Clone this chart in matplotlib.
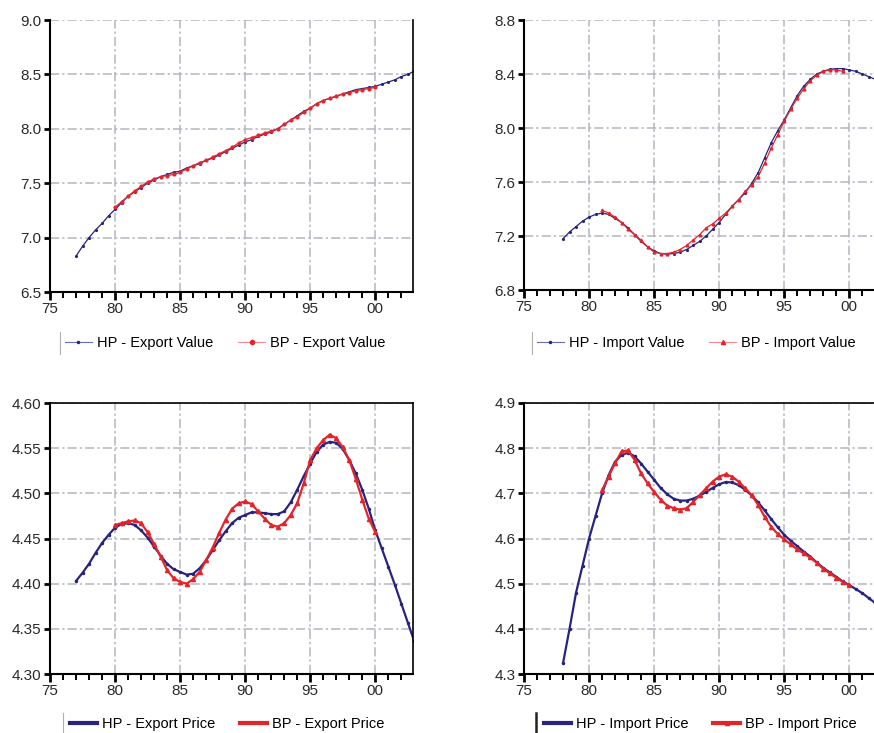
import numpy as np
import matplotlib
matplotlib.use("Agg")
import matplotlib.pyplot as plt
from matplotlib.lines import Line2D
from matplotlib.ticker import FixedLocator, MultipleLocator

plt.rcParams['font.family'] = ['Liberation Sans', 'DejaVu Sans']

NAVY = '#27247f'
RED = '#e3252b'
GRID = '#b3b7c0'

# half-year time index (year - 1900)
hp_ev_years = np.arange(77.0, 103.01, 0.5)
hp_ev = [6.83, 6.92, 7.00, 7.07, 7.13, 7.20, 7.26, 7.32, 7.38, 7.42,
         7.46, 7.50, 7.53, 7.56, 7.58, 7.60, 7.61, 7.64, 7.66, 7.68,
         7.71, 7.73, 7.76, 7.79, 7.82, 7.85, 7.88, 7.90, 7.93, 7.95,
         7.97, 8.00, 8.04, 8.08, 8.12, 8.16, 8.19, 8.23, 8.26, 8.28,
         8.30, 8.32, 8.34, 8.36, 8.37, 8.38, 8.39, 8.41, 8.43, 8.45,
         8.48, 8.50, 8.53]
bp_ev_years = np.arange(80.0, 100.01, 0.5)
bp_ev = [7.28, 7.33, 7.38, 7.43, 7.47, 7.51, 7.54, 7.56, 7.57, 7.58,
         7.60, 7.63, 7.66, 7.69, 7.71, 7.74, 7.77, 7.80, 7.83, 7.87,
         7.90, 7.92, 7.94, 7.96, 7.98, 8.00, 8.04, 8.08, 8.11, 8.15,
         8.19, 8.23, 8.26, 8.28, 8.30, 8.32, 8.33, 8.35, 8.36, 8.37,
         8.38]

hp_iv_years = np.arange(78.0, 103.01, 0.5)
hp_iv = [7.18, 7.23, 7.27, 7.31, 7.34, 7.36, 7.37, 7.36, 7.33, 7.30,
         7.26, 7.21, 7.16, 7.12, 7.09, 7.07, 7.065, 7.07, 7.08, 7.10,
         7.13, 7.16, 7.20, 7.25, 7.30, 7.36, 7.42, 7.47, 7.52, 7.59,
         7.67, 7.78, 7.89, 7.98, 8.06, 8.15, 8.24, 8.31, 8.36, 8.40,
         8.42, 8.435, 8.44, 8.44, 8.43, 8.42, 8.40, 8.38, 8.36, 8.33,
         8.30]
bp_iv_years = np.arange(81.0, 99.51, 0.5)
bp_iv = [7.39, 7.37, 7.34, 7.30, 7.25, 7.21, 7.17, 7.12, 7.08, 7.07,
         7.07, 7.08, 7.10, 7.13, 7.17, 7.21, 7.26, 7.29, 7.33, 7.37,
         7.42, 7.47, 7.53, 7.58, 7.64, 7.74, 7.85, 7.95, 8.05, 8.14,
         8.22, 8.29, 8.35, 8.39, 8.42, 8.43, 8.43, 8.42]

hp_ep_years = np.arange(77.0, 103.01, 0.5)
hp_ep = [4.403, 4.412, 4.422, 4.434, 4.445, 4.454, 4.462, 4.466, 4.467, 4.465,
         4.459, 4.451, 4.441, 4.431, 4.422, 4.416, 4.413, 4.410, 4.411, 4.417,
         4.426, 4.437, 4.448, 4.458, 4.467, 4.473, 4.476, 4.479, 4.479, 4.478,
         4.477, 4.477, 4.480, 4.490, 4.504, 4.519, 4.533, 4.546, 4.554, 4.557,
         4.556, 4.549, 4.537, 4.522, 4.504, 4.483, 4.459, 4.439, 4.419, 4.399,
         4.378, 4.357, 4.336]
bp_ep_years = np.arange(80.0, 100.01, 0.5)
bp_ep = [4.465, 4.467, 4.469, 4.470, 4.467, 4.457, 4.444, 4.430, 4.415, 4.406,
         4.402, 4.400, 4.405, 4.413, 4.426, 4.440, 4.456, 4.471, 4.483, 4.489,
         4.491, 4.488, 4.480, 4.472, 4.465, 4.463, 4.467, 4.476, 4.489, 4.511,
         4.537, 4.550, 4.559, 4.565, 4.561, 4.551, 4.537, 4.516, 4.493, 4.472,
         4.457]

hp_ip_years = np.arange(78.0, 103.01, 0.5)
hp_ip = [4.324, 4.40, 4.48, 4.54, 4.60, 4.65, 4.70, 4.74, 4.77, 4.785,
         4.79, 4.782, 4.766, 4.748, 4.73, 4.712, 4.698, 4.688, 4.684, 4.684,
         4.688, 4.695, 4.703, 4.712, 4.72, 4.725, 4.724, 4.718, 4.708, 4.695,
         4.68, 4.662, 4.643, 4.625, 4.608, 4.595, 4.583, 4.571, 4.56, 4.547,
         4.535, 4.525, 4.515, 4.505, 4.497, 4.488, 4.479, 4.468, 4.457, 4.447,
         4.436]
bp_ip_years = np.arange(81.0, 100.01, 0.5)
bp_ip = [4.707, 4.737, 4.767, 4.793, 4.795, 4.774, 4.744, 4.722, 4.703, 4.686,
         4.673, 4.667, 4.664, 4.667, 4.681, 4.696, 4.711, 4.726, 4.737, 4.742,
         4.737, 4.726, 4.711, 4.696, 4.674, 4.648, 4.626, 4.610, 4.598, 4.587,
         4.576, 4.567, 4.558, 4.546, 4.533, 4.523, 4.513, 4.504, 4.496]

year_ticks = [75, 80, 85, 90, 95, 100]
year_labels = ['75', '80', '85', '90', '95', '00']

W, H = 874, 733


def rect(left, top, right, bottom):
    return [left / W, 1 - bottom / H, (right - left) / W, (bottom - top) / H]


def style_axes(ax, ylim, ystep, yfmt, top_spine):
    ax.set_xlim(75, 102.9)
    ax.set_ylim(*ylim)
    ax.xaxis.set_major_locator(FixedLocator(year_ticks))
    ax.set_xticklabels(year_labels)
    ax.xaxis.set_minor_locator(MultipleLocator(1))
    ax.yaxis.set_major_locator(MultipleLocator(ystep))
    ax.yaxis.set_major_formatter(plt.FormatStrFormatter(yfmt))
    ax.tick_params(axis='x', which='major', direction='out', length=6, width=2,
                   labelsize=11, pad=1, colors='black', labelcolor='#2a2a2a')
    ax.tick_params(axis='x', which='minor', direction='out', length=4, width=1.4)
    ax.tick_params(axis='y', which='major', direction='out', length=4, width=2,
                   labelsize=11, pad=2, labelcolor='#2a2a2a')
    ax.grid(True, which='major', color=GRID, linewidth=1.1,
            linestyle=(0, (6, 2, 1.5, 2)))
    ax.set_axisbelow(True)
    for s in ['left', 'bottom']:
        ax.spines[s].set_linewidth(1.5)
    ax.spines['right'].set_linewidth(1.2)
    ax.spines['top'].set_linewidth(1.2)
    ax.spines['top'].set_visible(top_spine)


def add_legend(ax, handles, labels, x_px, y_px, bar_x, bar_color, bar_lw):
    ax.legend(handles, labels, loc='center left',
              bbox_to_anchor=(x_px / W, 1 - y_px / H),
              bbox_transform=fig.transFigure, ncol=2, frameon=False,
              fontsize=10.5, handlelength=1.85, handletextpad=0.35,
              columnspacing=1.7, borderpad=0, borderaxespad=0, numpoints=1)
    fig.add_artist(Line2D([bar_x / W, bar_x / W],
                          [1 - (y_px - 11) / H, 1 - (y_px + 11) / H],
                          color=bar_color, linewidth=bar_lw,
                          transform=fig.transFigure))


fig = plt.figure(figsize=(W / 100, H / 100), dpi=100)

# export value
ax1 = fig.add_axes(rect(50, 20, 413, 292))
ax1.plot(hp_ev_years, hp_ev, color=NAVY, lw=0.9, marker='.', ms=2.5)
ax1.plot(bp_ev_years, bp_ev, color=RED, lw=0.9, marker='o', ms=2)
style_axes(ax1, (6.5, 9.0), 0.5, '%.1f', False)
add_legend(ax1,
           [Line2D([], [], color='#6d6bb0', lw=0.8, marker='.', ms=3, mfc=NAVY, mec=NAVY),
            Line2D([], [], color='#f08a8d', lw=0.8, marker='o', ms=3, mfc=RED, mec=RED)],
           ['HP - Export Value', 'BP - Export Value'], 65, 343, 60, '#b0b0b0', 0.8)

# import value
ax2 = fig.add_axes(rect(524, 20, 887, 290))
ax2.plot(hp_iv_years, hp_iv, color=NAVY, lw=0.9, marker='.', ms=2.5)
ax2.plot(bp_iv_years, bp_iv, color=RED, lw=0.9, marker='^', ms=2)
style_axes(ax2, (6.8, 8.8), 0.4, '%.1f', False)
add_legend(ax2,
           [Line2D([], [], color='#6d6bb0', lw=0.8, marker='.', ms=3, mfc=NAVY, mec=NAVY),
            Line2D([], [], color='#f08a8d', lw=0.8, marker='^', ms=3, mfc=RED, mec=RED)],
           ['HP - Import Value', 'BP - Import Value'], 537, 343, 532, '#b0b0b0', 0.8)

# export price
ax3 = fig.add_axes(rect(50, 403, 413, 674))
ax3.plot(hp_ep_years, hp_ep, color=NAVY, lw=1.6, marker='.', ms=3)
ax3.plot(bp_ep_years, bp_ep, color=RED, lw=1.6, marker='^', ms=3)
style_axes(ax3, (4.30, 4.60), 0.05, '%.2f', True)
add_legend(ax3,
           [Line2D([], [], color=NAVY, lw=3),
            Line2D([], [], color=RED, lw=3)],
           ['HP - Export Price', 'BP - Export Price'], 70, 724, 63, '#b0b0b0', 0.8)

# import price
ax4 = fig.add_axes(rect(524, 403, 887, 674))
ax4.plot(hp_ip_years, hp_ip, color=NAVY, lw=1.6, marker='.', ms=3)
ax4.plot(bp_ip_years, bp_ip, color=RED, lw=1.6, marker='^', ms=3)
style_axes(ax4, (4.3, 4.9), 0.1, '%.1f', True)
add_legend(ax4,
           [Line2D([], [], color=NAVY, lw=3),
            Line2D([], [], color=RED, lw=3, marker='^', ms=3)],
           ['HP - Import Price', 'BP - Import Price'], 544, 724, 536, '#222222', 1.8)

fig.savefig('out.png', dpi=100)
plt.close(fig)
